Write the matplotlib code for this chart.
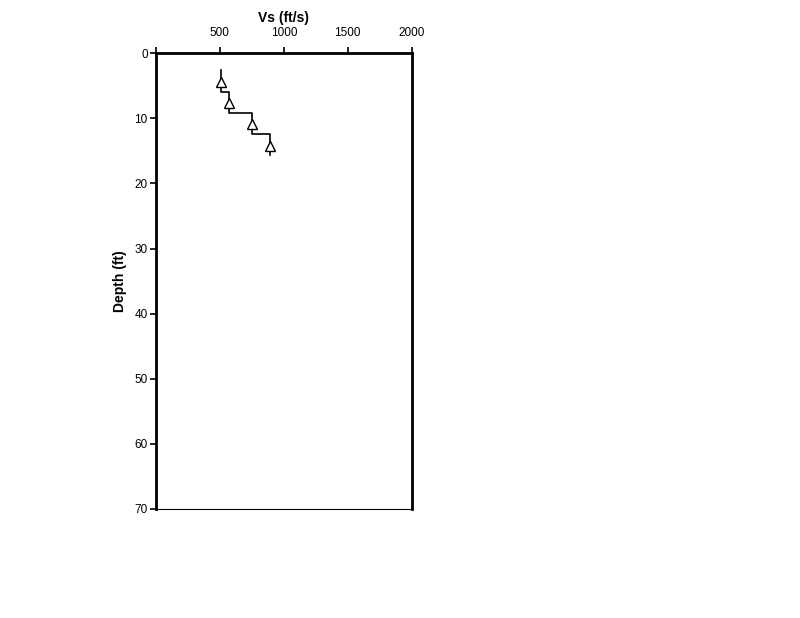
import matplotlib
matplotlib.use("Agg")
import matplotlib.pyplot as plt

plt.rcParams['font.family'] = ['Liberation Sans', 'DejaVu Sans']

# Step profile (layer velocities and boundaries)
step_depth = [2.6, 5.9, 5.9, 9.2, 9.2, 12.4, 12.4, 15.7]
step_vs = [512, 512, 575, 575, 748, 748, 895, 895]
# Measured points
pt_depth = [4.4, 7.6, 10.9, 14.3]
pt_vs = [512, 575, 748, 895]

x_ticks = [0, 500, 1000, 1500, 2000]
x_ticklabels = ['', '500', '1000', '1500', '2000']
y_ticks = [0, 10, 20, 30, 40, 50, 60, 70]

fig = plt.figure(figsize=(8, 6.18), dpi=100)
ax = fig.add_axes([0.195, 0.1764, 0.3195, 0.7374])

ax.plot(step_vs, step_depth, color='black', lw=1.2, zorder=2)
ax.plot(pt_vs, pt_depth, linestyle='none', marker='^', markersize=7,
        markerfacecolor='white', markeredgecolor='black', markeredgewidth=1.0, zorder=3)

ax.set_xlim(0, 2000)
ax.set_ylim(70, 0)
ax.xaxis.set_ticks_position('top')
ax.xaxis.set_label_position('top')
ax.set_xticks(x_ticks)
ax.set_xticklabels(x_ticklabels)
ax.set_yticks(y_ticks)
ax.tick_params(axis='both', direction='out', length=4, width=1.2, labelsize=8.5, pad=2)
ax.tick_params(axis='x', pad=6)

for s in ['top', 'left', 'right']:
    ax.spines[s].set_linewidth(2.0)
ax.spines['bottom'].set_linewidth(0.8)

ax.set_xlabel('Vs (ft/s)', fontsize=10, fontweight='bold', labelpad=4)
ax.set_ylabel('Depth (ft)', fontsize=10, fontweight='bold', labelpad=5)

fig.savefig('out.png', dpi=100, facecolor='white')
